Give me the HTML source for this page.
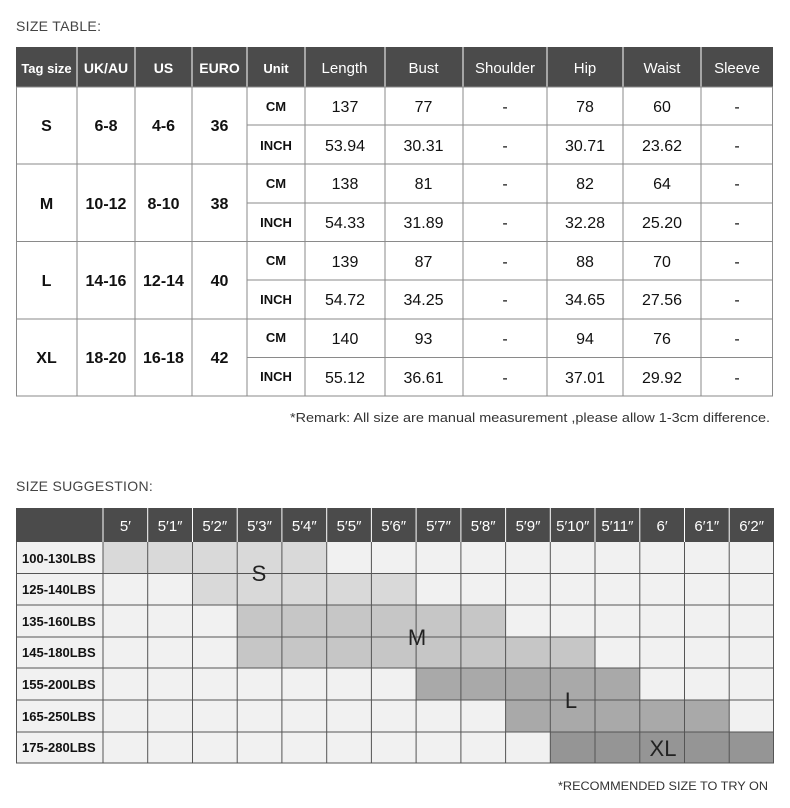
<!DOCTYPE html>
<html><head><meta charset="utf-8"><style>
html,body{margin:0;padding:0;background:#fff;width:790px;height:808px;overflow:hidden}
svg{display:block;font-family:"Liberation Sans",sans-serif}
</style></head><body>
<svg width="790" height="808" viewBox="0 0 790 808">
<text x="16" y="31" font-size="14" fill="#444" letter-spacing="0.3">SIZE TABLE:</text>
<!-- header -->
<rect x="16" y="47" width="757" height="40" fill="#4b4b4b"/>
<g fill="#fff" font-size="14" text-anchor="middle" font-weight="bold">
<text x="46.5" y="73" font-size="13">Tag size</text>
<text x="106" y="73">UK/AU</text>
<text x="163.5" y="73">US</text>
<text x="219.5" y="73">EURO</text>
<text x="276" y="73" font-size="13">Unit</text>
<text x="344.5" y="73" font-size="15" font-weight="normal">Length</text>
<text x="423.5" y="73" font-size="15" font-weight="normal">Bust</text>
<text x="505" y="73" font-size="15" font-weight="normal">Shoulder</text>
<text x="585" y="73" font-size="15" font-weight="normal">Hip</text>
<text x="662" y="73" font-size="15" font-weight="normal">Waist</text>
<text x="737" y="73" font-size="15" font-weight="normal">Sleeve</text>
</g>
<g stroke="#fff" stroke-width="1">
<line x1="77" y1="47" x2="77" y2="87"/><line x1="135" y1="47" x2="135" y2="87"/><line x1="192" y1="47" x2="192" y2="87"/><line x1="247" y1="47" x2="247" y2="87"/><line x1="305" y1="47" x2="305" y2="87"/><line x1="385" y1="47" x2="385" y2="87"/><line x1="463" y1="47" x2="463" y2="87"/><line x1="547" y1="47" x2="547" y2="87"/><line x1="623" y1="47" x2="623" y2="87"/><line x1="701" y1="47" x2="701" y2="87"/>
</g>
<g stroke="#8a8a8a" stroke-width="1" fill="none">
<rect x="16.5" y="87" width="756" height="309"/>
<line x1="77" y1="87" x2="77" y2="396"/><line x1="135" y1="87" x2="135" y2="396"/><line x1="192" y1="87" x2="192" y2="396"/><line x1="247" y1="87" x2="247" y2="396"/><line x1="305" y1="87" x2="305" y2="396"/><line x1="385" y1="87" x2="385" y2="396"/><line x1="463" y1="87" x2="463" y2="396"/><line x1="547" y1="87" x2="547" y2="396"/><line x1="623" y1="87" x2="623" y2="396"/><line x1="701" y1="87" x2="701" y2="396"/>
<line x1="16" y1="164" x2="773" y2="164"/><line x1="16" y1="241.5" x2="773" y2="241.5"/><line x1="16" y1="319" x2="773" y2="319"/>
<line x1="247" y1="125" x2="773" y2="125"/><line x1="247" y1="203" x2="773" y2="203"/><line x1="247" y1="280" x2="773" y2="280"/><line x1="247" y1="357.5" x2="773" y2="357.5"/>
</g>
<g fill="#111" font-size="16" text-anchor="middle" font-weight="bold">
<text x="46.5" y="131">S</text><text x="106" y="131">6-8</text><text x="163.5" y="131">4-6</text><text x="219.5" y="131">36</text>
<text x="46.5" y="209">M</text><text x="106" y="209">10-12</text><text x="163.5" y="209">8-10</text><text x="219.5" y="209">38</text>
<text x="46.5" y="286">L</text><text x="106" y="286">14-16</text><text x="163.5" y="286">12-14</text><text x="219.5" y="286">40</text>
<text x="46.5" y="363">XL</text><text x="106" y="363">18-20</text><text x="163.5" y="363">16-18</text><text x="219.5" y="363">42</text>
</g>
<g fill="#111" font-size="13" text-anchor="middle" font-weight="bold">
<text x="276" y="111">CM</text><text x="276" y="150">INCH</text>
<text x="276" y="188">CM</text><text x="276" y="227">INCH</text>
<text x="276" y="265">CM</text><text x="276" y="304">INCH</text>
<text x="276" y="342">CM</text><text x="276" y="381">INCH</text>
</g>
<g fill="#111" font-size="16" text-anchor="middle">
<text x="345" y="112">137</text><text x="423.5" y="112">77</text><text x="505" y="112">-</text><text x="585" y="112">78</text><text x="662" y="112">60</text><text x="737" y="112">-</text>
<text x="345" y="151">53.94</text><text x="423.5" y="151">30.31</text><text x="505" y="151">-</text><text x="585" y="151">30.71</text><text x="662" y="151">23.62</text><text x="737" y="151">-</text>
<text x="345" y="189">138</text><text x="423.5" y="189">81</text><text x="505" y="189">-</text><text x="585" y="189">82</text><text x="662" y="189">64</text><text x="737" y="189">-</text>
<text x="345" y="228">54.33</text><text x="423.5" y="228">31.89</text><text x="505" y="228">-</text><text x="585" y="228">32.28</text><text x="662" y="228">25.20</text><text x="737" y="228">-</text>
<text x="345" y="267">139</text><text x="423.5" y="267">87</text><text x="505" y="267">-</text><text x="585" y="267">88</text><text x="662" y="267">70</text><text x="737" y="267">-</text>
<text x="345" y="305">54.72</text><text x="423.5" y="305">34.25</text><text x="505" y="305">-</text><text x="585" y="305">34.65</text><text x="662" y="305">27.56</text><text x="737" y="305">-</text>
<text x="345" y="344">140</text><text x="423.5" y="344">93</text><text x="505" y="344">-</text><text x="585" y="344">94</text><text x="662" y="344">76</text><text x="737" y="344">-</text>
<text x="345" y="383">55.12</text><text x="423.5" y="383">36.61</text><text x="505" y="383">-</text><text x="585" y="383">37.01</text><text x="662" y="383">29.92</text><text x="737" y="383">-</text>
</g>
<text x="770" y="422" font-size="12.5" fill="#333" text-anchor="end" textLength="480" lengthAdjust="spacingAndGlyphs">*Remark: All size are manual measurement ,please allow 1-3cm difference.</text>

<text x="16" y="491" font-size="14" fill="#444" letter-spacing="0.3">SIZE SUGGESTION:</text>
<!-- grid -->
<rect x="16" y="508" width="758" height="34" fill="#4b4b4b"/>
<g fill="#fff" font-size="15" text-anchor="middle">
<text x="125.4" y="531">5′</text><text x="170.1" y="531">5′1″</text><text x="214.8" y="531">5′2″</text><text x="259.5" y="531">5′3″</text><text x="304.3" y="531">5′4″</text><text x="349" y="531">5′5″</text><text x="393.7" y="531">5′6″</text><text x="438.5" y="531">5′7″</text><text x="483.2" y="531">5′8″</text><text x="528" y="531">5′9″</text><text x="572.7" y="531">5′10″</text><text x="617.4" y="531">5′11″</text><text x="662.1" y="531">6′</text><text x="706.8" y="531">6′1″</text><text x="751.6" y="531">6′2″</text>
</g>
<g stroke="#fff" stroke-width="1">
<line x1="103" y1="508" x2="103" y2="542"/><line x1="147.7" y1="508" x2="147.7" y2="542"/><line x1="192.5" y1="508" x2="192.5" y2="542"/><line x1="237.2" y1="508" x2="237.2" y2="542"/><line x1="281.9" y1="508" x2="281.9" y2="542"/><line x1="326.7" y1="508" x2="326.7" y2="542"/><line x1="371.4" y1="508" x2="371.4" y2="542"/><line x1="416.1" y1="508" x2="416.1" y2="542"/><line x1="460.9" y1="508" x2="460.9" y2="542"/><line x1="505.6" y1="508" x2="505.6" y2="542"/><line x1="550.3" y1="508" x2="550.3" y2="542"/><line x1="595" y1="508" x2="595" y2="542"/><line x1="639.8" y1="508" x2="639.8" y2="542"/><line x1="684.5" y1="508" x2="684.5" y2="542"/><line x1="729.2" y1="508" x2="729.2" y2="542"/>
</g>
<rect x="16" y="542" width="758" height="221" fill="#f1f1f1"/>
<rect x="103" y="542" width="223.7" height="31.5" fill="#d9d9d9"/>
<rect x="192.5" y="573.5" width="223.6" height="31.5" fill="#d9d9d9"/>
<rect x="237.2" y="605" width="268.4" height="32" fill="#c6c6c6"/>
<rect x="237.2" y="637" width="357.8" height="31" fill="#c6c6c6"/>
<rect x="416.1" y="668" width="223.7" height="32" fill="#a9a9a9"/>
<rect x="505.6" y="700" width="223.6" height="32" fill="#a9a9a9"/>
<rect x="550.3" y="732" width="223.7" height="31" fill="#959595"/>
<g stroke="#555" stroke-width="1" fill="none">
<line x1="16.5" y1="542" x2="16.5" y2="763"/>
<line x1="103" y1="542" x2="103" y2="763"/><line x1="147.7" y1="542" x2="147.7" y2="763"/><line x1="192.5" y1="542" x2="192.5" y2="763"/><line x1="237.2" y1="542" x2="237.2" y2="763"/><line x1="281.9" y1="542" x2="281.9" y2="763"/><line x1="326.7" y1="542" x2="326.7" y2="763"/><line x1="371.4" y1="542" x2="371.4" y2="763"/><line x1="416.1" y1="542" x2="416.1" y2="763"/><line x1="460.9" y1="542" x2="460.9" y2="763"/><line x1="505.6" y1="542" x2="505.6" y2="763"/><line x1="550.3" y1="542" x2="550.3" y2="763"/><line x1="595" y1="542" x2="595" y2="763"/><line x1="639.8" y1="542" x2="639.8" y2="763"/><line x1="684.5" y1="542" x2="684.5" y2="763"/><line x1="729.2" y1="542" x2="729.2" y2="763"/><line x1="773.5" y1="542" x2="773.5" y2="763"/>
<line x1="16" y1="573.5" x2="774" y2="573.5"/><line x1="16" y1="605" x2="774" y2="605"/><line x1="16" y1="637" x2="774" y2="637"/><line x1="16" y1="668" x2="774" y2="668"/><line x1="16" y1="700" x2="774" y2="700"/><line x1="16" y1="732" x2="774" y2="732"/><line x1="16" y1="763" x2="774" y2="763"/>
</g>
<g fill="#111" font-size="13" font-weight="bold">
<text x="22" y="563">100-130LBS</text><text x="22" y="594">125-140LBS</text><text x="22" y="626">135-160LBS</text><text x="22" y="657">145-180LBS</text><text x="22" y="689">155-200LBS</text><text x="22" y="721">165-250LBS</text><text x="22" y="752">175-280LBS</text>
</g>
<g fill="#222" font-size="22" text-anchor="middle">
<text x="259" y="581">S</text><text x="417" y="645">M</text><text x="571" y="708">L</text><text x="663" y="756">XL</text>
</g>
<text x="768" y="790" font-size="12" fill="#333" text-anchor="end" textLength="210" lengthAdjust="spacingAndGlyphs">*RECOMMENDED SIZE TO TRY ON</text>
</svg>
</body></html>
